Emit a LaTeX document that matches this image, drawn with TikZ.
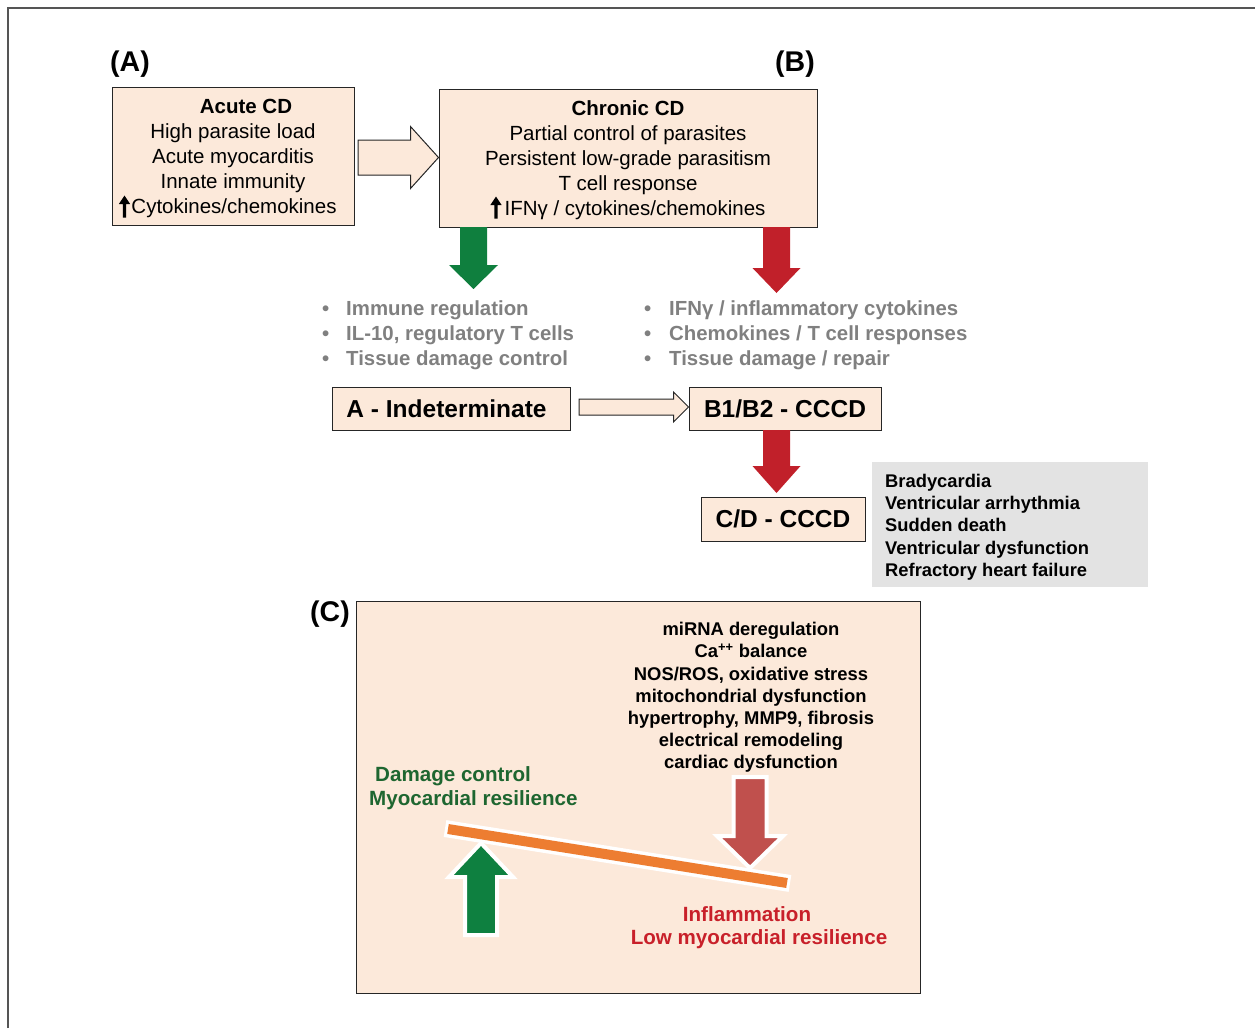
\documentclass[tikz,border=0pt]{standalone}
\usepackage{fontspec}
\setmainfont{Liberation Sans}
\usetikzlibrary{calc}
\definecolor{peach}{HTML}{FCE9DA}
\definecolor{edgegray}{HTML}{262626}
\definecolor{topgreen}{HTML}{0F7F3E}
\definecolor{topred}{HTML}{C1202A}
\definecolor{cgreen}{HTML}{0E8040}
\definecolor{cred}{HTML}{C0504D}
\definecolor{barorange}{HTML}{ED7D31}
\definecolor{greentxt}{HTML}{1E6630}
\definecolor{redtxt}{HTML}{C8202A}
\definecolor{bulletgray}{HTML}{808080}
\definecolor{boxgray}{HTML}{E3E3E3}
\definecolor{framegray}{HTML}{555555}

% #1 style, #2 start, #3 end, #4 half body, #5 half head, #6 head length
\newcommand\myblockarrow[6]{%
  \coordinate (mbaH) at ($(#3)!#6!(#2)$);
  \path[#1] ($(#2)!#4!90:(#3)$) -- ($(mbaH)!#4!-90:(#2)$) -- ($(mbaH)!#5!-90:(#2)$)
    -- (#3) -- ($(mbaH)!#5!90:(#2)$) -- ($(mbaH)!#4!90:(#2)$) -- ($(#2)!#4!-90:(#3)$) -- cycle;
}

\tikzset{
  box/.style={draw=edgegray, line width=1pt, fill=peach, align=center, inner sep=0pt},
  boxtxt/.style={box, font=\fontsize{20.5}{25}\selectfont},
  stagebox/.style={box, font=\bfseries\fontsize{24.5}{28}\selectfont},
  bullets/.style={align=left, text=bulletgray, font=\bfseries\fontsize{20.4}{25}\selectfont, inner sep=0pt, anchor=west},
  panellabel/.style={font=\bfseries\fontsize{28.5}{30}\selectfont, inner sep=0pt},
  hollow/.style={fill=peach, draw=edgegray, line width=1pt},
  hollowshadow/.style={fill=black, opacity=0.18},
  solidgreen/.style={fill=topgreen},
  solidred/.style={fill=topred},
  uparrowglyph/.style={fill=black},
  cgreenarrow/.style={fill=cgreen, draw=white, line width=4pt, line join=miter},
  credarrow/.style={fill=cred, draw=white, line width=4pt, line join=miter},
  ctext/.style={align=center, inner sep=0pt, font=\bfseries\fontsize{18.4}{22.2}\selectfont},
  bigcolor/.style={inner sep=0pt, font=\bfseries\fontsize{20.6}{24}\selectfont},
}

\begin{document}
\begin{tikzpicture}[x=1pt, y=-1pt]
\useasboundingbox (0,0) rectangle (1255,1028);
% frame
\draw[framegray, line width=1.5pt] (8,1028) -- (8,8) -- (1255,8);

% panel labels
\node[panellabel] (labA) at (130,64) {(A)};
\node[panellabel] (labB) at (795,64) {(B)};
\node[panellabel] (labC) at (330,614) {(C)};

% top boxes
\node[boxtxt, minimum width=242pt, minimum height=138pt] (boxA) at (233,156)
  {\rule{0pt}{18.7pt}\hspace*{26pt}\textbf{Acute CD}\\ High parasite load\\ Acute myocarditis\\ Innate immunity\\ \hspace*{14pt}Cytokines/chemokines\hspace*{12pt}};
\node[boxtxt, minimum width=378pt, minimum height=138pt] (boxB) at (628,158)
  {\rule{0pt}{18.7pt}\textbf{Chronic CD}\\ Partial control of parasites\\ Persistent low-grade parasitism\\ T cell response\\ \hspace*{14pt}IFNγ / cytokines/chemokines};

% up-arrow marks in the boxes
\coordinate (upAs) at (124.5,217.5);
\coordinate (upAe) at (124.5,195.5);
\myblockarrow{uparrowglyph}{upAs}{upAe}{1.7pt}{5.6pt}{8.5pt}
\coordinate (upBs) at (496,218.5);
\coordinate (upBe) at (496,196.5);
\myblockarrow{uparrowglyph}{upBs}{upBe}{1.7pt}{5.6pt}{8.5pt}

% hollow arrow A -> B
\coordinate (a1s) at (358,157.5);
\coordinate (a1e) at (boxB.west |- a1s);
\begin{scope}[shift={(1.5,2)}]
\myblockarrow{hollowshadow}{a1s}{a1e}{17.5pt}{31pt}{28pt}
\end{scope}
\myblockarrow{hollow}{a1s}{a1e}{17.5pt}{31pt}{28pt}

% green / red arrows from chronic box
\coordinate (g1s) at (473.5,227);
\coordinate (g1e) at (473.5,289);
\myblockarrow{solidgreen}{g1s}{g1e}{13.5pt}{24.5pt}{24pt}
\coordinate (r1s) at (776.5,227);
\coordinate (r1e) at (776.5,293);
\myblockarrow{solidred}{r1s}{r1e}{13.5pt}{24pt}{25pt}

% bullet lists
\node[bullets] (bulL) at (322,335)
  {\makebox[24pt][l]{•}Immune regulation\\ \makebox[24pt][l]{•}IL-10, regulatory T cells\\ \makebox[24pt][l]{•}Tissue damage control};
\node[bullets] (bulR) at (644,335)
  {\makebox[25pt][l]{•}IFNγ / inflammatory cytokines\\ \makebox[25pt][l]{•}Chemokines / T cell responses\\ \makebox[25pt][l]{•}Tissue damage / repair};

% stage boxes
\node[stagebox, minimum width=238pt, minimum height=43pt] (indet) at (451,408.5) {A - Indeterminate\hspace*{9pt}};
\node[stagebox, minimum width=192pt, minimum height=43pt] (b1b2) at (785,408.5) {B1/B2 - CCCD};
\node[stagebox, minimum width=164pt, minimum height=44pt] (cd) at (783,519) {C/D - CCCD};

% hollow arrow indet -> b1b2
\coordinate (a2s) at (579,407);
\coordinate (a2e) at (b1b2.west |- a2s);
\begin{scope}[shift={(1.5,2)}]
\myblockarrow{hollowshadow}{a2s}{a2e}{8pt}{15pt}{15pt}
\end{scope}
\myblockarrow{hollow}{a2s}{a2e}{8pt}{15pt}{15pt}

% red arrow b1b2 -> cd
\coordinate (r2s) at (776.5,430);
\coordinate (r2e) at (776.5,493);
\myblockarrow{solidred}{r2s}{r2e}{13.5pt}{24pt}{27pt}

% gray outcomes box
\fill[boxgray] (872,462) rectangle (1148,587);
\node[anchor=west, align=left, inner sep=0pt, font=\bfseries\fontsize{18.35}{22.25}\selectfont] (outc) at (885,527)
  {Bradycardia\\ Ventricular arrhythmia\\ Sudden death\\ Ventricular dysfunction\\ Refractory heart failure};

% panel C
\node[draw=edgegray, line width=1pt, fill=peach, minimum width=564pt, minimum height=392pt, inner sep=0pt] (panelC) at (638,797) {};

\node[ctext] (mech) at (751,697.5)
  {miRNA deregulation\\ Ca\textsuperscript{++} balance\\ NOS/ROS, oxidative stress\\ mitochondrial dysfunction\\ hypertrophy, MMP9, fibrosis\\ electrical remodeling\\ cardiac dysfunction};

\node[bigcolor, text=greentxt, align=left, anchor=west] (dmg) at (369,788)
  {\hspace*{6pt}Damage control\\ Myocardial resilience};
\node[bigcolor, text=redtxt] (infl1) at (747,914) {Inflammation};
\node[bigcolor, text=redtxt] (infl2) at (759,939.5) {Low myocardial resilience};

% balance bar
\coordinate (barL) at (448,829);
\coordinate (barR) at (787,883);
\draw[white, line width=17pt, shorten <=-3pt, shorten >=-3pt] (barL) -- (barR);
\draw[barorange, line width=10pt] (barL) -- (barR);

% arrows in panel C
\coordinate (cgs) at (481,935);
\coordinate (cge) at (481,843);
\myblockarrow{cgreenarrow}{cgs}{cge}{16pt}{32pt}{34pt}
\coordinate (crs) at (750,777);
\coordinate (cre) at (750,868);
\myblockarrow{credarrow}{crs}{cre}{16.5pt}{33pt}{32pt}
\end{tikzpicture}
\end{document}
